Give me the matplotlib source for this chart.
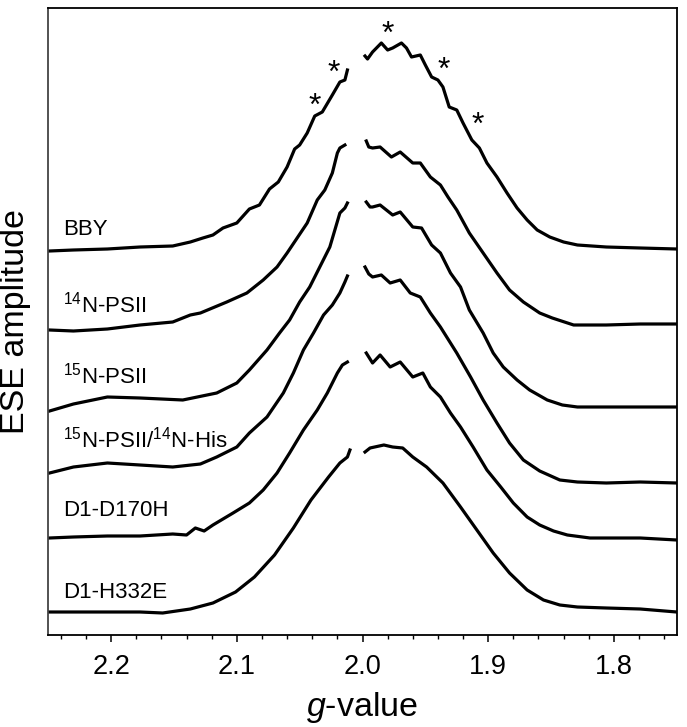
import matplotlib
matplotlib.use("Agg")
import matplotlib.pyplot as plt
from matplotlib.ticker import MultipleLocator

plt.rcParams['font.family'] = ['Liberation Sans', 'DejaVu Sans']
plt.rcParams['mathtext.fontset'] = 'custom'
plt.rcParams['mathtext.rm'] = 'Liberation Sans'
plt.rcParams['mathtext.it'] = 'Liberation Sans:italic'
plt.rcParams['mathtext.default'] = 'regular'

# ---------------- data ----------------
labels = ["BBY", r"$^{14}$N-PSII", r"$^{15}$N-PSII", r"$^{15}$N-PSII/$^{14}$N-His",
          "D1-D170H", "D1-H332E"]
offsets = [384, 305, 224, 162, 97, 23]          # vertical stacking offsets (a.u.)

# Each trace: low-field part (g > 2.01) and high-field part (g < 2.00)
bby_g_lo = [2.249, 2.230, 2.203, 2.177, 2.151, 2.137, 2.127, 2.119, 2.111, 2.100, 2.090, 2.082,
            2.074, 2.067, 2.060, 2.054, 2.050, 2.044, 2.038, 2.032, 2.024, 2.018, 2.014, 2.012]
bby_s_lo = [0, 1, 2, 4, 5, 9, 13, 16, 23, 28, 42, 46, 62, 69, 84, 102, 106, 118, 135, 139, 156,
            169, 171, 181]
bby_g_hi = [1.998, 1.996, 1.992, 1.985, 1.980, 1.976, 1.969, 1.965, 1.961, 1.954, 1.950, 1.945,
            1.940, 1.936, 1.931, 1.925, 1.920, 1.913, 1.907, 1.901, 1.893, 1.885, 1.877, 1.869,
            1.861, 1.851, 1.840, 1.829, 1.806, 1.779, 1.750]
bby_s_hi = [195, 192, 199, 208, 201, 203, 208, 203, 194, 196, 186, 174, 171, 164, 144, 141, 128,
            111, 103, 88, 74, 58, 43, 31, 21, 14, 9, 6, 4, 3, 2]

n14_g_lo = [2.249, 2.230, 2.203, 2.177, 2.151, 2.137, 2.129, 2.108, 2.092, 2.079, 2.068, 2.060,
            2.052, 2.044, 2.036, 2.030, 2.024, 2.020, 2.018, 2.014]
n14_s_lo = [0, -1, 1, 5, 8, 15, 17, 28, 37, 50, 63, 77, 92, 107, 130, 140, 157, 177, 182, 185]
n14_g_hi = [1.997, 1.995, 1.992, 1.986, 1.977, 1.970, 1.960, 1.954, 1.946, 1.938, 1.932, 1.925,
            1.915, 1.904, 1.893, 1.883, 1.872, 1.859, 1.849, 1.832, 1.806, 1.779, 1.750]
n14_s_hi = [189, 183, 182, 183, 173, 178, 167, 167, 153, 145, 133, 120, 97, 77, 57, 40, 28, 17,
            12, 5, 5, 6, 6]

n15_g_lo = [2.249, 2.230, 2.203, 2.177, 2.143, 2.116, 2.100, 2.090, 2.076, 2.066, 2.058, 2.050,
            2.042, 2.034, 2.026, 2.022, 2.018, 2.014, 2.012]
n15_s_lo = [0, 7, 14, 13, 11, 18, 28, 41, 61, 78, 91, 109, 124, 144, 164, 181, 198, 203, 208]
n15_g_hi = [1.997, 1.994, 1.992, 1.986, 1.976, 1.970, 1.960, 1.953, 1.945, 1.938, 1.930, 1.922,
            1.915, 1.904, 1.896, 1.888, 1.877, 1.867, 1.853, 1.841, 1.829, 1.806, 1.779, 1.750]
n15_s_hi = [209, 204, 204, 206, 196, 199, 184, 183, 166, 158, 138, 124, 101, 78, 58, 44, 31, 21,
            11, 6, 4, 4, 4, 4]

his_g_lo = [2.249, 2.230, 2.203, 2.177, 2.151, 2.129, 2.116, 2.100, 2.090, 2.076, 2.063, 2.055,
            2.047, 2.039, 2.031, 2.024, 2.018, 2.014, 2.012]
his_s_lo = [0, 6, 10, 8, 6, 9, 16, 26, 40, 56, 80, 100, 123, 140, 158, 168, 180, 191, 197]
his_g_hi = [1.998, 1.995, 1.992, 1.985, 1.978, 1.970, 1.962, 1.954, 1.946, 1.938, 1.925, 1.914,
            1.904, 1.893, 1.883, 1.872, 1.859, 1.843, 1.829, 1.806, 1.779, 1.750]
his_s_hi = [206, 199, 196, 198, 190, 193, 180, 176, 160, 146, 120, 96, 73, 50, 30, 13, 2, -7, -9,
            -10, -9, -10]

d170_g_lo = [2.249, 2.230, 2.203, 2.177, 2.151, 2.140, 2.133, 2.126, 2.119, 2.103, 2.090, 2.079,
             2.068, 2.058, 2.047, 2.036, 2.028, 2.020, 2.016, 2.012]
d170_s_lo = [0, 1, 2, 2, 4, 3, 10, 7, 13, 25, 35, 48, 65, 85, 108, 128, 145, 165, 173, 176]
d170_g_hi = [1.997, 1.992, 1.986, 1.978, 1.970, 1.960, 1.952, 1.946, 1.938, 1.930, 1.922, 1.912,
             1.901, 1.890, 1.880, 1.869, 1.859, 1.848, 1.837, 1.819, 1.779, 1.750]
d170_s_hi = [185, 175, 183, 171, 176, 161, 165, 151, 141, 125, 111, 91, 68, 51, 35, 21, 13, 7, 3,
             0, 0, -2]

h332_g_lo = [2.249, 2.230, 2.203, 2.177, 2.159, 2.137, 2.119, 2.101, 2.086, 2.070, 2.055, 2.041,
             2.027, 2.018, 2.012, 2.010]
h332_s_lo = [0, 0, 0, 0, -1, 3, 9, 20, 35, 57, 84, 112, 135, 149, 155, 162]
h332_g_hi = [1.998, 1.994, 1.983, 1.976, 1.968, 1.960, 1.949, 1.936, 1.922, 1.909, 1.896, 1.883,
             1.869, 1.856, 1.843, 1.829, 1.806, 1.779, 1.750]
h332_s_hi = [160, 164, 167, 165, 164, 155, 145, 129, 105, 82, 59, 39, 22, 12, 7, 5, 4, 3, 0]

traces = [
    (bby_g_lo, bby_s_lo, bby_g_hi, bby_s_hi),
    (n14_g_lo, n14_s_lo, n14_g_hi, n14_s_hi),
    (n15_g_lo, n15_s_lo, n15_g_hi, n15_s_hi),
    (his_g_lo, his_s_lo, his_g_hi, his_s_hi),
    (d170_g_lo, d170_s_lo, d170_g_hi, d170_s_hi),
    (h332_g_lo, h332_s_lo, h332_g_hi, h332_s_hi),
]

# asterisk annotations on the BBY trace (g, amplitude)
star_g = [2.038, 2.023, 1.980, 1.935, 1.908]
star_y = [528, 561, 600, 564, 509]

# trace label positions (amplitude of text baseline)
label_y = [400, 322, 251, 187, 119, 37]
label_g = 2.238

# ---------------- figure ----------------
fig = plt.figure(figsize=(6.87, 7.27), dpi=100)
ax = fig.add_axes([48.3 / 687, 92 / 727, 628.4 / 687, 626.5 / 727])

for (glo, slo, ghi, shi), off in zip(traces, offsets):
    ax.plot(glo, [v + off for v in slo], color='black', lw=2.3, solid_joinstyle='round')
    ax.plot(ghi, [v + off for v in shi], color='black', lw=2.3, solid_joinstyle='round')

for lab, ly in zip(labels, label_y):
    ax.text(label_g, ly, lab, fontsize=16, ha='left', va='baseline')

for sg, sy in zip(star_g, star_y):
    ax.text(sg, sy, '*', fontsize=23, ha='center', va='center')

ax.set_xlim(2.25, 1.75)
ax.set_ylim(0, 626.5)
ax.xaxis.set_major_locator(MultipleLocator(0.1))
ax.xaxis.set_minor_locator(MultipleLocator(0.02))
ax.xaxis.set_major_formatter(matplotlib.ticker.FormatStrFormatter('%.1f'))
ax.tick_params(axis='x', which='major', direction='out', length=5, width=1.1,
               labelsize=19.5, pad=9)
ax.tick_params(axis='x', which='minor', direction='out', length=3, width=1.0)
ax.set_yticks([])
for sp in ax.spines.values():
    sp.set_linewidth(1.3)
ax.spines['left'].set_color('#444444')

ax.set_xlabel(r'$\it{g}$-value', fontsize=24.5, labelpad=7)
ax.set_ylabel('ESE amplitude', fontsize=24.5)
ax.yaxis.set_label_coords(-0.027, 0.5)

fig.savefig('out.png', dpi=100)
